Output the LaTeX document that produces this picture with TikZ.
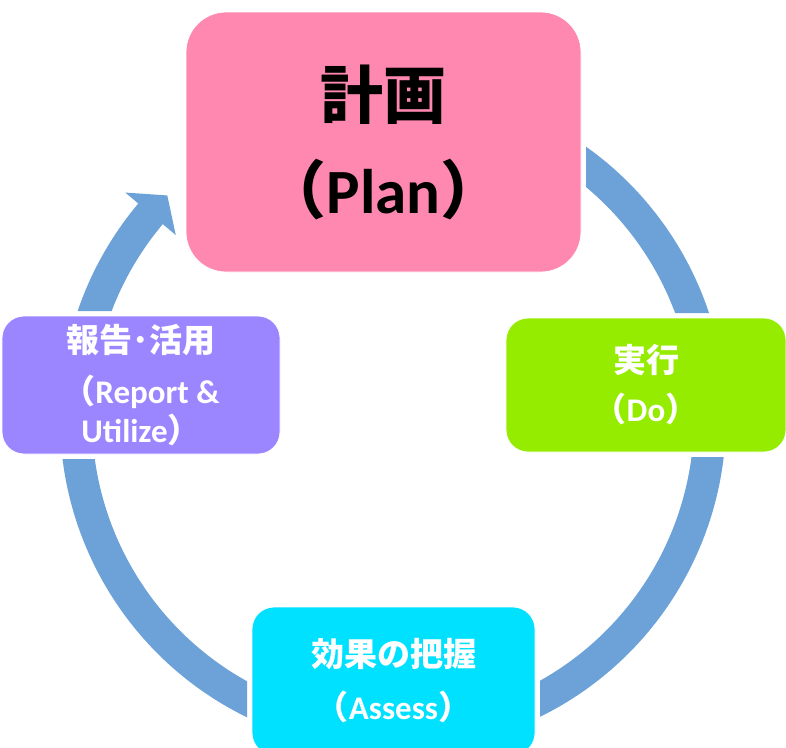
\documentclass[tikz,border=0pt]{standalone}
\usepackage{fontspec}
\setmainfont{Carlito}
\newfontfamily\jp{Noto Sans CJK JP}
\usetikzlibrary{calc}
\definecolor{ringblue}{RGB}{108,162,216}
\definecolor{planpink}{RGB}{255,136,176}
\definecolor{dogreen}{RGB}{150,236,0}
\definecolor{assesscyan}{RGB}{0,224,255}
\definecolor{reportpurple}{RGB}{156,134,255}
\begin{document}
\begin{tikzpicture}[x=1pt,y=-1pt,
  ring/.style={draw=ringblue, line width=32pt},
  stagebox/.style={draw=white, line width=0.8pt, rounded corners=22pt, inner sep=0pt,
    align=center, text=white, font=\bfseries\fontsize{33}{39}\selectfont}]
\useasboundingbox (0,0) rectangle (786,747);
\coordinate (C) at (393,418);
% ring segments
\begin{scope}[even odd rule]
  \clip (-20,-20) rectangle (810,780)
     (181,7) rectangle (586,277)
     (501,313) rectangle (791,457)
     (-3,311) rectangle (285,459)
     (247,602) rectangle (540,780);
  \draw[ring] ($(C)+(-60:317)$) arc[start angle=-60, end angle=-10, radius=317];
  \draw[ring] ($(C)+(0:317)$) arc[start angle=0, end angle=70, radius=317];
  \draw[ring] ($(C)+(110:317)$) arc[start angle=110, end angle=180, radius=317];
  \draw[ring] ($(C)+(190:317)$) arc[start angle=190, end angle=220.6, radius=317];
  \coordinate (tip) at ($(C)+(224.6:317)$);
  \coordinate (barbout) at ($(C)+(220.1:350)$);
  \coordinate (barbin) at ($(C)+(220.1:284)$);
  \fill[ringblue] (tip) -- (barbout) -- (barbin) -- cycle;
\end{scope}
% boxes
\node[stagebox, fill=planpink, rounded corners=40pt, minimum width=395pt, minimum height=260pt,
      text=black, font=\bfseries\fontsize{63}{95}\selectfont] (plan) at (383.5,142)
      {{\jp 計画}\\{\jp （}Plan{\jp ）}};
\node[stagebox, fill=dogreen, minimum width=280pt, minimum height=134pt,
      font=\bfseries\fontsize{33}{49}\selectfont] (do) at (646,385)
      {{\jp 実行}\\{\jp （}Do{\jp ）}};
\node[stagebox, fill=assesscyan, minimum width=283pt, minimum height=148pt,
      font=\bfseries\fontsize{33}{53}\selectfont] (assess) at (393.5,681)
      {{\jp 効果の把握}\\{\jp （}Assess{\jp ）}};
\node[stagebox, fill=reportpurple, minimum width=278pt, minimum height=138pt] (report) at (141,385)
      {{\jp 報告･活用}\\[12pt]{\jp （}Report \&\\Utilize{\jp ）}};
\end{tikzpicture}
\end{document}
